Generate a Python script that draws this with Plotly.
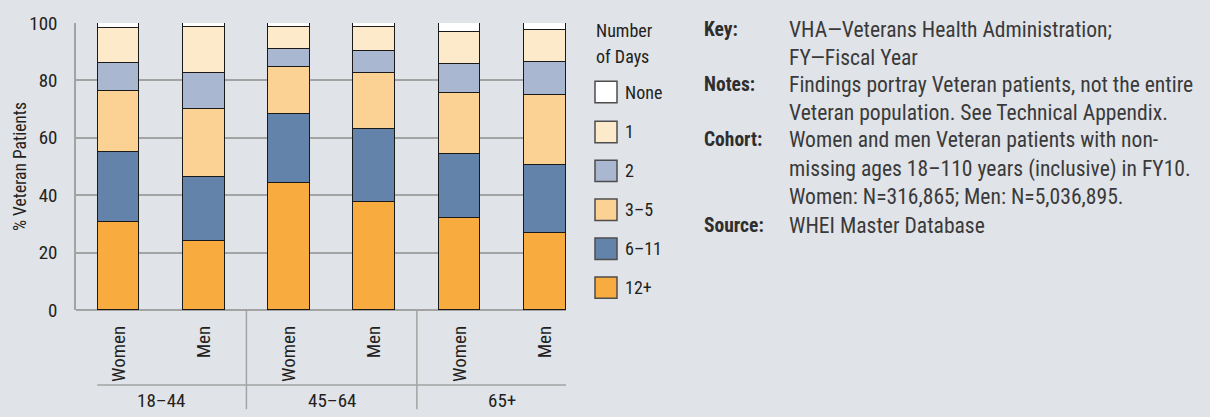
import plotly.graph_objects as go

# ---- data ----
bar_labels = ["Women", "Men", "Women", "Men", "Women", "Men"]
age_groups = ["18–44", "45–64", "65+"]
series_names = ["12+", "6–11", "3–5", "2", "1", "None"]
v_12plus = [30.5, 24.0, 44.1, 37.6, 31.9, 26.7]
v_6_11 = [24.5, 22.3, 24.3, 25.5, 22.6, 23.7]
v_3_5 = [21.2, 23.8, 16.3, 19.4, 21.1, 24.5]
v_2 = [9.7, 12.4, 6.4, 7.7, 10.1, 11.4]
v_1 = [12.4, 16.1, 7.5, 8.3, 11.2, 11.2]
v_none = [1.7, 1.4, 1.4, 1.5, 3.1, 2.5]
series_values = [v_12plus, v_6_11, v_3_5, v_2, v_1, v_none]
series_colors = ["#F8AC3F", "#6383AB", "#FBD194", "#A9B7D1", "#FDEACB", "#FFFFFF"]
y_ticks = [0, 20, 40, 60, 80, 100]

legend_title = ["Number", "of Days"]
note_labels = ["Key:", "", "Notes:", "", "Cohort:", "", "", "Source:"]
note_lines = [
    "VHA—Veterans Health Administration;",
    "FY—Fiscal Year",
    "Findings portray Veteran patients, not the entire",
    "Veteran population. See Technical Appendix.",
    "Women and men Veteran patients with non-",
    "missing ages 18–110 years (inclusive) in FY10.",
    "Women: N=316,865; Men: N=5,036,895.",
    "WHEI Master Database",
]

# ---- style ----
BG = "#E0E3E8"
GRID = "#A3A3A3"
FONT = "Roboto Condensed, DejaVu Sans Condensed, sans-serif"
TXT = "#231F20"

W, H = 1210, 417
L, R, T, B = 76, 566, 15, 310  # plot area in pixels

def px_x(px):
    return (px - L) / (R - L)

def px_y(py):
    return (B - py) / (B - T)

x_pos = list(range(len(bar_labels)))

fig = go.Figure()
for name, vals, col in zip(series_names, series_values, series_colors):
    fig.add_trace(go.Bar(
        x=x_pos, y=vals, name=name, width=0.49,
        marker=dict(color=col, line=dict(color="#1A1A1A", width=1.5)),
        showlegend=False,
    ))

shapes = []
annotations = []

# group separators and group labels
for sep in [1.5, 3.5]:
    shapes.append(dict(type="line", xref="x", yref="paper", x0=sep, x1=sep,
                       y0=0, y1=px_y(412), line=dict(color=GRID, width=1.5)))
shapes.append(dict(type="line", xref="x", yref="paper", x0=-0.25, x1=5.25,
                   y0=px_y(387), y1=px_y(387), line=dict(color=GRID, width=1.5)))
for i, g in enumerate(age_groups):
    annotations.append(dict(text=g, xref="x", yref="paper", x=2 * i + 0.5, y=px_y(403),
                            showarrow=False, font=dict(family=FONT, size=19, color=TXT),
                            xanchor="center", yanchor="middle"))

# custom legend
for j, t in enumerate(legend_title):
    annotations.append(dict(text=t, xref="paper", yref="paper", x=px_x(594), y=px_y([23, 49][j]),
                            showarrow=False, font=dict(family=FONT, size=18, color=TXT),
                            xanchor="left", yanchor="middle"))
legend_centers = [86, 127, 167, 207, 247, 287]
for k, idx in enumerate(reversed(range(len(series_names)))):
    cy = legend_centers[k]
    shapes.append(dict(type="rect", xref="paper", yref="paper",
                       x0=px_x(595), x1=px_x(617), y0=px_y(cy + 11), y1=px_y(cy - 11),
                       fillcolor=series_colors[idx], line=dict(color="#4D4D4D", width=1.5)))
    annotations.append(dict(text=series_names[idx], xref="paper", yref="paper",
                            x=px_x(623), y=px_y(cy), showarrow=False,
                            font=dict(family=FONT, size=18, color=TXT),
                            xanchor="left", yanchor="middle"))

# notes panel
line_y = [22, 50, 78, 107, 135, 165, 193, 223]
for lab, line, ly in zip(note_labels, note_lines, line_y):
    if lab:
        annotations.append(dict(text="<b>" + lab + "</b>", xref="paper", yref="paper",
                                x=px_x(702), y=px_y(ly), showarrow=False,
                                font=dict(family=FONT, size=19.5, color="#2E2E2E"),
                                xanchor="left", yanchor="middle"))
    annotations.append(dict(text=line, xref="paper", yref="paper",
                            x=px_x(787), y=px_y(ly), showarrow=False,
                            font=dict(family=FONT, size=21.6, color="#3A3A3A"),
                            xanchor="left", yanchor="middle"))

# y-axis title
annotations.append(dict(text="% Veteran Patients", xref="paper", yref="paper",
                        x=px_x(20), y=px_y(163), textangle=-90, showarrow=False,
                        font=dict(family=FONT, size=17.5, color=TXT),
                        xanchor="center", yanchor="middle"))

fig.update_layout(
    barmode="stack",
    width=W, height=H,
    margin=dict(l=L, r=W - R, t=T, b=H - B, pad=0),
    paper_bgcolor=BG, plot_bgcolor=BG,
    bargap=0,
    shapes=shapes, annotations=annotations,
    font=dict(family=FONT, color=TXT),
    xaxis=dict(range=[-0.5, 5.25], tickmode="array", tickvals=x_pos, ticktext=bar_labels,
               tickangle=-90, tickfont=dict(family=FONT, size=19, color=TXT),
               showgrid=False, zeroline=False, showline=False, ticks="",
               ticklabelstandoff=11, fixedrange=True),
    yaxis=dict(range=[0, 100], tickmode="array", tickvals=y_ticks,
               tickfont=dict(family=FONT, size=19, color=TXT),
               showgrid=True, gridcolor=GRID, gridwidth=1.5,
               zeroline=True, zerolinecolor=GRID, zerolinewidth=1.5,
               showline=True, linecolor=GRID, linewidth=1.5,
               ticks="", ticklabelstandoff=13, fixedrange=True),
)

fig.write_html(
    "out.html",
    config={"displayModeBar": False},
    post_script="document.body.style.margin='0';document.body.style.background='%s';" % BG,
)
